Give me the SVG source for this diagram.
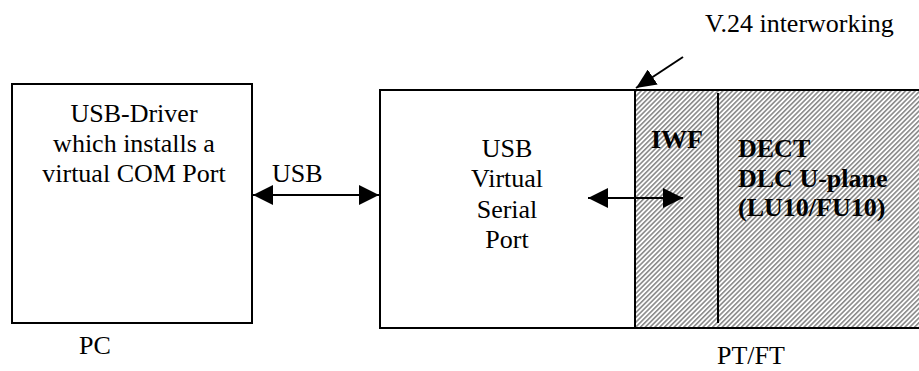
<svg xmlns="http://www.w3.org/2000/svg" width="919" height="371" viewBox="0 0 919 371">
  <style>
    .t { font-family: "Liberation Serif", "Times New Roman", serif; font-size: 26px; fill: #000; }
    .b { font-weight: bold; }
    .box { fill: none; stroke: #000; stroke-width: 2; }
    .ln { stroke: #000; stroke-width: 2; fill: none; }
  </style>
  <defs>
    <pattern id="hatch" patternUnits="userSpaceOnUse" width="3.4" height="10" patternTransform="rotate(45)">
      <rect x="0" y="0" width="1.6" height="10" fill="#8a8a8a"/>
    </pattern>
    <marker id="ah" markerUnits="userSpaceOnUse" viewBox="0 0 20 20" markerWidth="20" markerHeight="20" refX="20" refY="10" orient="auto-start-reverse">
      <path d="M0,0 L20,10 L0,20 z" fill="#000"/>
    </marker>
    <marker id="ah2" markerUnits="userSpaceOnUse" viewBox="0 0 20 18" markerWidth="20" markerHeight="18" refX="20" refY="9" orient="auto">
      <path d="M0,0 L20,9 L0,18 z" fill="#000"/>
    </marker>
  </defs>

  <text class="t" x="705" y="32">V.24 interworking</text>

  <g id="pc">
    <rect class="box" x="12" y="84" width="240" height="239" fill="#fff"/>
    <text class="t" x="134" y="122" text-anchor="middle">USB-Driver</text>
    <text class="t" x="134" y="152" text-anchor="middle">which installs a</text>
    <text class="t" x="134" y="182" text-anchor="middle">virtual COM Port</text>
    <text class="t" x="79" y="354">PC</text>
  </g>

  <g id="ptft">
    <rect x="635" y="90" width="290" height="238" fill="url(#hatch)"/>
    <rect class="box" x="380" y="90" width="545" height="238"/>
    <line class="ln" x1="635" y1="90" x2="635" y2="328"/>
    <line class="ln" x1="718" y1="93" x2="718" y2="323"/>
    <text class="t" x="507" y="157" text-anchor="middle">USB</text>
    <text class="t" x="507" y="187" text-anchor="middle">Virtual</text>
    <text class="t" x="507" y="218" text-anchor="middle">Serial</text>
    <text class="t" x="507" y="248" text-anchor="middle">Port</text>
    <text class="t b" x="677" y="148" text-anchor="middle">IWF</text>
    <text class="t b" x="738" y="157">DECT</text>
    <text class="t b" x="738" y="187">DLC U-plane</text>
    <text class="t b" x="738" y="216">(LU10/FU10)</text>
    <text class="t" x="717" y="364">PT/FT</text>
  </g>

  <g id="connectors">
    <line class="ln" x1="253" y1="195" x2="379" y2="195" stroke-width="1.6" marker-start="url(#ah)" marker-end="url(#ah)"/>
    <text class="t" x="272" y="182">USB</text>
    <line class="ln" x1="588" y1="198" x2="683" y2="198" stroke-width="1.6" marker-start="url(#ah)" marker-end="url(#ah)"/>
    <line class="ln" x1="683" y1="57" x2="636" y2="88" stroke-width="1.6" marker-end="url(#ah2)"/>
  </g>
</svg>
